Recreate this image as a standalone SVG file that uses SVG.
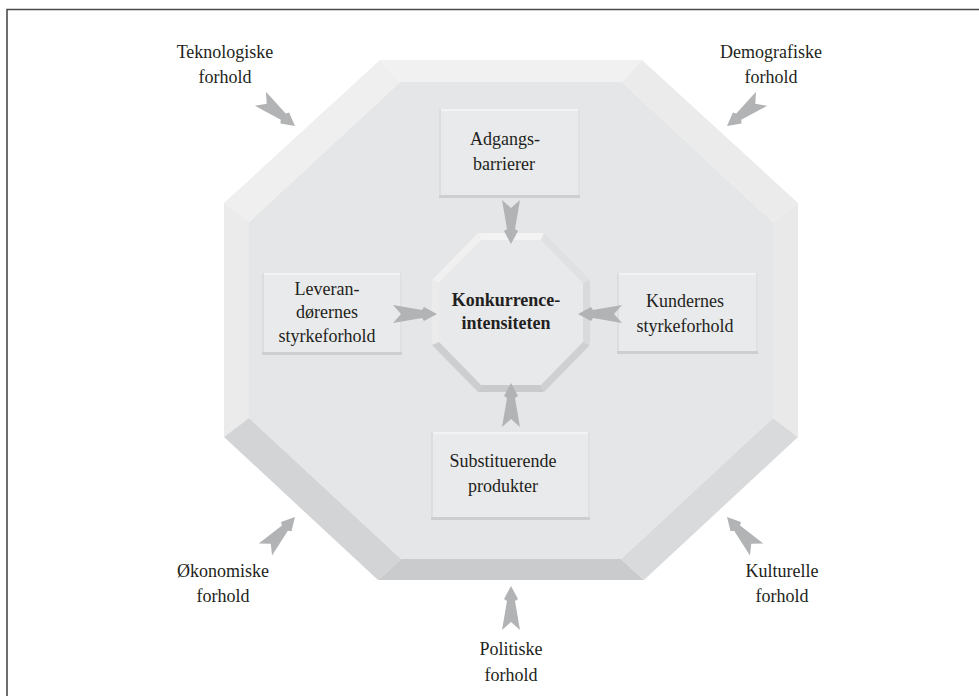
<svg xmlns="http://www.w3.org/2000/svg" xmlns:xlink="http://www.w3.org/1999/xlink" width="979" height="696" viewBox="0 0 979 696">
<style>
text{font-family:"Liberation Serif","Times New Roman",serif;font-size:18px;fill:#231f20;text-anchor:middle}
.b{font-weight:bold}
.arrow{fill:#b2b3b5}
.boxface{fill:#e9eaeb}
.bt{fill:#f3f3f4}
.bl{fill:#dcdddf}
.br{fill:#e0e1e2}
.bb{fill:#cdced0}
</style>
<defs>
<path id="arr" d="M0,0 L-13,-7 L-15,-4 L-44,-9 L-36,0 L-44,9 L-15,4 L-13,7 Z"/>
</defs>
<rect width="979" height="696" fill="#ffffff"/>
<path d="M7,696 V9.5 H979" fill="none" stroke="#4a4a4a" stroke-width="1.6"/>

<g id="outer-octagon">
<polygon points="400,82 622,82 773,222 773,418 621,559 401,559 249,418 249,222" fill="#e5e6e7"/>
<polygon points="380,60 642,60 622,82 400,82" fill="#f1f1f2"/>
<polygon points="224,203 380,60 400,82 249,222" fill="#efeff0"/>
<polygon points="224,203 249,222 249,418 224,437" fill="#ebebec"/>
<polygon points="224,437 249,418 401,559 378,580" fill="#d3d4d6"/>
<polygon points="378,580 401,559 621,559 644,580" fill="#cacbcd"/>
<polygon points="644,580 621,559 773,418 798,437" fill="#d9dadc"/>
<polygon points="798,437 773,418 773,222 798,203" fill="#e9e9ea"/>
<polygon points="798,203 773,222 622,82 642,60" fill="#ebebec"/>
</g>

<g id="center">
<polygon points="481,240 541,240 583,283 583,342 541,385 481,385 439,342 439,283" fill="#e8e9ea"/>
<polygon points="478,233 544,233 541,240 481,240" fill="#f3f3f4"/>
<polygon points="432,280 478,233 481,240 439,283" fill="#f0f0f1"/>
<polygon points="432,280 439,283 439,342 432,345" fill="#ebebec"/>
<polygon points="432,345 439,342 481,385 478,392" fill="#cdcecf"/>
<polygon points="478,392 481,385 541,385 544,392" fill="#c9cacc"/>
<polygon points="544,392 541,385 583,342 590,345" fill="#cfd0d2"/>
<polygon points="590,345 583,342 583,283 590,280" fill="#d9dadb"/>
<polygon points="590,280 583,283 541,240 544,233" fill="#e0e1e2"/>
<text class="b" x="506" y="306">Konkurrence-</text>
<text class="b" x="506" y="329">intensiteten</text>
</g>

<g id="adgangs">
<rect class="boxface" x="439" y="109" width="141" height="89"/>
<rect class="bt" x="439" y="109" width="141" height="2"/>
<rect class="bl" x="439" y="109" width="2" height="89"/>
<rect class="br" x="578" y="109" width="2" height="89"/>
<rect class="bb" x="439" y="195" width="141" height="3"/>
<text x="505" y="145">Adgangs-</text>
<text x="504" y="170">barrierer</text>
</g>

<g id="leverandorer">
<rect class="boxface" x="262" y="273" width="140" height="82"/>
<rect class="bt" x="262" y="273" width="140" height="2"/>
<rect class="bl" x="262" y="273" width="2" height="82"/>
<rect class="br" x="400" y="273" width="2" height="82"/>
<rect class="bb" x="262" y="352" width="140" height="3"/>
<text x="327" y="295">Leveran-</text>
<text x="327" y="318">dørernes</text>
<text x="327" y="342">styrkeforhold</text>
</g>

<g id="kunder">
<rect class="boxface" x="617" y="273" width="141" height="81"/>
<rect class="bt" x="617" y="273" width="141" height="2"/>
<rect class="bl" x="617" y="273" width="2" height="81"/>
<rect class="br" x="756" y="273" width="2" height="81"/>
<rect class="bb" x="617" y="351" width="141" height="3"/>
<text x="685" y="307">Kundernes</text>
<text x="685" y="332">styrkeforhold</text>
</g>

<g id="substituerende">
<rect class="boxface" x="431" y="432" width="159" height="88"/>
<rect class="bt" x="431" y="432" width="159" height="2"/>
<rect class="bl" x="431" y="432" width="2" height="88"/>
<rect class="br" x="588" y="432" width="2" height="88"/>
<rect class="bb" x="431" y="517" width="159" height="3"/>
<text x="503" y="467">Substituerende</text>
<text x="503" y="492">produkter</text>
</g>

<g id="teknologiske">
<text x="225" y="58">Teknologiske</text>
<text x="225" y="83">forhold</text>
</g>
<g id="demografiske">
<text x="771" y="58">Demografiske</text>
<text x="771" y="83">forhold</text>
</g>
<g id="okonomiske">
<text x="223" y="577">Økonomiske</text>
<text x="223" y="602">forhold</text>
</g>
<g id="kulturelle">
<text x="782" y="577">Kulturelle</text>
<text x="782" y="602">forhold</text>
</g>
<g id="politiske">
<text x="511" y="655">Politiske</text>
<text x="511" y="681">forhold</text>
</g>

<g id="connectors" class="arrow">
<use xlink:href="#arr" transform="translate(295,126) rotate(38.2)"/>
<use xlink:href="#arr" transform="translate(727,126) rotate(141.8)"/>
<use xlink:href="#arr" transform="translate(295,517) rotate(-47.7)"/>
<use xlink:href="#arr" transform="translate(727,517) rotate(-132.3)"/>
<use xlink:href="#arr" transform="translate(511,586) rotate(-90)"/>
<use xlink:href="#arr" transform="translate(511,244) rotate(90)"/>
<use xlink:href="#arr" transform="translate(511,383) rotate(-90)"/>
<use xlink:href="#arr" transform="translate(437,314)"/>
<use xlink:href="#arr" transform="translate(578,314) rotate(180)"/>
</g>
</svg>
